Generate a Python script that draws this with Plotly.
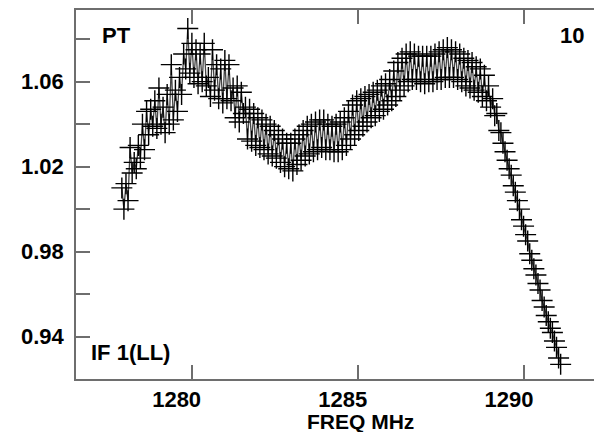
import plotly.graph_objects as go

# Channel frequency grid (MHz)
FREQ_START = 1277.90
CHAN_WIDTH = 0.062

# Bandpass amplitude: alternating channels sit on an upper and a lower envelope
UPPER = [1.010, 1.012, 1.029, 1.022, 1.030, 1.040, 1.046, 1.047, 1.051, 1.057,
         1.048, 1.054, 1.068, 1.056, 1.062, 1.073, 1.085, 1.078, 1.075, 1.073,
         1.078, 1.062, 1.075, 1.068, 1.066, 1.070, 1.068, 1.057, 1.058, 1.055,
         1.048,
         1.047, 1.045, 1.043, 1.042, 1.040, 1.039, 1.037, 1.035, 1.033, 1.031,
         1.031, 1.033, 1.035, 1.037, 1.039, 1.040, 1.041, 1.042, 1.042, 1.040,
         1.039, 1.040, 1.041, 1.043, 1.046, 1.049, 1.051, 1.052, 1.053, 1.054,
         1.055, 1.056, 1.058, 1.059, 1.061, 1.065, 1.069, 1.071, 1.073, 1.074,
         1.073, 1.072, 1.072, 1.072, 1.072, 1.073, 1.074, 1.075, 1.076, 1.075,
         1.074, 1.073, 1.071, 1.070, 1.069, 1.067, 1.066, 1.063, 1.058, 1.052,
         1.045, 1.036, 1.027, 1.019, 1.011, 1.004, 0.995, 0.988, 0.979, 0.972,
         0.965, 0.957, 0.950, 0.944, 0.938, 0.930]
LOWER = [1.000, 1.004, 1.017, 1.019, 1.024, 1.028, 1.035, 1.039, 1.038, 1.040,
         1.036, 1.040, 1.042, 1.046, 1.054, 1.066, 1.064, 1.062, 1.059, 1.060,
         1.058, 1.053, 1.056, 1.052, 1.050, 1.052, 1.051, 1.043, 1.041, 1.045,
         1.033,
         1.032, 1.030, 1.029, 1.028, 1.026, 1.025, 1.024, 1.022, 1.020, 1.019,
         1.018, 1.021, 1.023, 1.025, 1.026, 1.027, 1.028, 1.029, 1.028, 1.028,
         1.027, 1.027, 1.028, 1.030, 1.033, 1.035, 1.037, 1.039, 1.041, 1.043,
         1.044, 1.046, 1.047, 1.049, 1.051, 1.053, 1.056, 1.058, 1.060, 1.061,
         1.061, 1.060, 1.059, 1.060, 1.060, 1.061, 1.061, 1.062, 1.062, 1.062,
         1.061, 1.060, 1.058, 1.057, 1.056, 1.055, 1.053, 1.051, 1.048, 1.044,
         1.037, 1.031, 1.023, 1.016, 1.008, 1.000, 0.992, 0.985, 0.976, 0.969,
         0.962, 0.954, 0.947, 0.942, 0.935, 0.927]

X_TICKS = [1280, 1285, 1290]
Y_TICKS = [0.94, 0.96, 0.98, 1.00, 1.02, 1.04, 1.06, 1.08]
Y_TICK_TEXT = ["0.94", "", "0.98", "", "1.02", "", "1.06", ""]

amp = []
for u, l in zip(UPPER, LOWER):
    amp.extend([u, l])
freq = [FREQ_START + CHAN_WIDTH * i for i in range(len(amp))]

FONT = "Liberation Sans, Arial, sans-serif"
AXC = "#6e6e6e"
BOLD = dict(family=FONT, size=22, color="black", weight="bold")

fig = go.Figure()
fig.add_trace(go.Scatter(
    x=freq, y=amp, mode="lines+markers",
    line=dict(color="#454545", width=1.3),
    marker=dict(symbol="cross-thin", size=15,
                line=dict(color="black", width=1.4)),
    showlegend=False, hoverinfo="skip",
))

fig.update_layout(
    width=594, height=432,
    margin=dict(l=76, r=0, t=10, b=53),
    paper_bgcolor="white", plot_bgcolor="white",
    font=BOLD,
    xaxis=dict(range=[1276.52, 1292.11], tickvals=X_TICKS,
               ticktext=[str(v) for v in X_TICKS],
               ticks="inside", ticklen=14, tickwidth=1.5, tickcolor=AXC,
               showline=True, linecolor=AXC, linewidth=1.5, mirror="ticks",
               showgrid=False, zeroline=False, ticklabelshift=-15,
               tickfont=BOLD),
    yaxis=dict(range=[0.9201, 1.0937], tickvals=Y_TICKS, ticktext=Y_TICK_TEXT,
               ticks="inside", ticklen=14, tickwidth=1.5, tickcolor=AXC,
               showline=True, linecolor=AXC, linewidth=1.5, mirror=False,
               showgrid=False, zeroline=False, ticklabelstandoff=6,
               tickfont=BOLD),
)

# place texts at pixel positions converted to fractions of the plot area
def ptxt(s, px, py, xanchor, size=22):
    fx = (px - 76) / (594 - 76)
    fy = (379 - py) / (379 - 10)
    fig.add_annotation(text=s, x=fx, y=fy, xref="paper", yref="paper",
                       xanchor=xanchor, yanchor="middle", showarrow=False,
                       font=dict(family=FONT, size=size, color="black", weight="bold"))

ptxt("PT", 100, 35, "left")
ptxt("10", 586, 35, "right")
ptxt("IF 1(LL)", 89, 352, "left")
ptxt("FREQ MHz", 360, 421, "center", size=21)

fig.write_html("out.html", config={"displayModeBar": False},
               post_script="document.body.style.margin='0';document.body.style.overflow='hidden';")
